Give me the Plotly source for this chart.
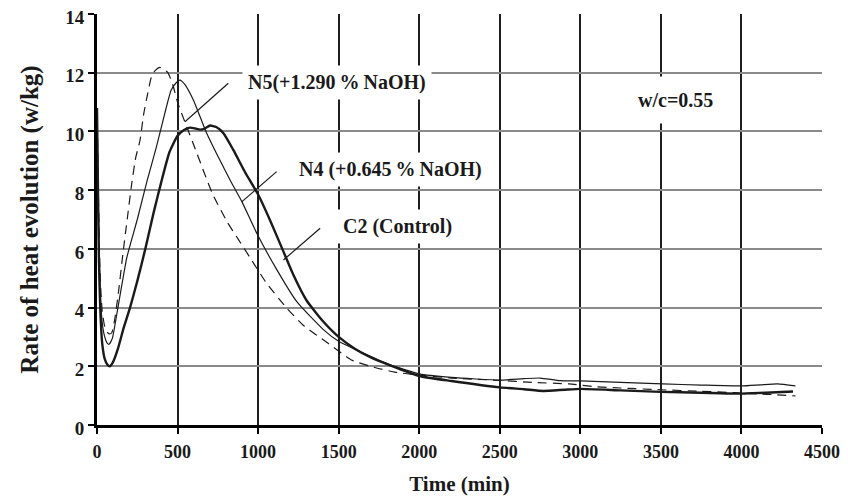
import plotly.graph_objects as go

# ---- data ----
t_c2 = [0, 6, 12, 20, 32, 48, 65, 80, 100, 130, 165, 205, 250, 300, 350, 400, 450, 500, 540, 578, 610,
        640, 670, 702, 740, 785, 846, 920, 1000, 1080, 1150, 1220, 1300, 1400, 1500, 1600, 1700, 1820,
        2000, 2200, 2500, 2650, 2770, 2900, 3000, 3250, 3500, 3750, 3870, 4000, 4150, 4320]
y_c2 = [10.8, 8.0, 5.6, 4.0, 2.8, 2.25, 2.05, 2.0, 2.15, 2.6, 3.3, 4.0, 4.9, 6.0, 7.2, 8.3, 9.3, 9.85, 10.05,
        10.13, 10.1, 10.06, 10.1, 10.2, 10.15, 9.94, 9.37, 8.6, 7.85, 6.9, 6.0, 5.1, 4.25, 3.55, 3.0, 2.6, 2.3,
        2.03, 1.67, 1.5, 1.28, 1.22, 1.16, 1.2, 1.23, 1.18, 1.13, 1.1, 1.08, 1.07, 1.1, 1.14]

t_n4 = [0, 6, 12, 20, 32, 48, 62, 75, 95, 130, 185, 250, 310, 370, 420, 460, 490, 515, 545, 598, 640, 681,
        760, 830, 900, 990, 1115, 1240, 1405, 1500, 1613, 1820, 2000, 2200, 2500, 2650, 2750, 2875, 3000,
        3250, 3510, 3750, 4000, 4120, 4225, 4335]
y_n4 = [10.8, 8.5, 6.3, 4.6, 3.5, 3.0, 2.8, 2.75, 2.95, 4.0, 5.7, 7.0, 8.3, 9.5, 10.6, 11.4, 11.65, 11.75,
        11.6, 11.07, 10.5, 9.94, 9.05, 8.3, 7.6, 6.55, 5.3, 4.2, 3.25, 2.85, 2.55, 2.05, 1.74, 1.62, 1.53, 1.58,
        1.6, 1.51, 1.5, 1.45, 1.4, 1.36, 1.33, 1.37, 1.4, 1.33]

t_n5 = [0, 6, 12, 20, 32, 48, 65, 80, 92, 110, 135, 160, 185, 215, 240, 267, 290, 315, 340, 362, 390, 415,
        440, 470, 500, 547, 610, 715, 810, 880, 950, 1050, 1175, 1280, 1430, 1585, 1730, 1850, 2000, 2200,
        2500, 2700, 2930, 3100, 3250, 3500, 3750, 3960, 4100, 4220, 4335]
y_n5 = [10.8, 8.8, 6.8, 5.0, 3.9, 3.35, 3.15, 3.1, 3.15, 3.6, 4.6, 5.8, 6.9, 8.2, 9.1, 9.7, 10.6, 11.3,
        11.9, 12.08, 12.18, 12.12, 12.0, 11.6, 11.0, 10.3, 9.4, 7.9, 6.9, 6.3, 5.7, 4.85, 4.0, 3.4, 2.8,
        2.2, 1.95, 1.8, 1.7, 1.6, 1.52, 1.45, 1.4, 1.3, 1.26, 1.2, 1.15, 1.1, 1.06, 1.03, 0.99]

x_ticks = [0, 500, 1000, 1500, 2000, 2500, 3000, 3500, 4000, 4500]
y_ticks = [0, 2, 4, 6, 8, 10, 12, 14]

# labels: text, label centre (x, y), pointer start (x, y), pointer end (x, y)
labels = [
    ("N5(+1.290\u2009%\u2009NaOH)", 1490, 11.65, 815, 11.64, 546, 10.33),
    ("N4 (+0.645\u2009%\u2009NaOH)", 1820, 8.69, 1115, 8.63, 898, 7.6),
    ("C2 (Control)", 1865, 6.75, 1385, 6.7, 1157, 5.62),
]
note_text, note_x, note_y = "w/c=0.55", 3590, 11.07

FONT = "Liberation Serif"
INK = "#1a1a1a"

fig = go.Figure()
fig.add_trace(go.Scatter(x=t_n5, y=y_n5, mode="lines", name="N5",
                         line=dict(color=INK, width=1.2, dash="9px,6px", shape="spline", smoothing=0.5)))
fig.add_trace(go.Scatter(x=t_n4, y=y_n4, mode="lines", name="N4",
                         line=dict(color=INK, width=1.2, shape="spline", smoothing=0.5)))
fig.add_trace(go.Scatter(x=t_c2, y=y_c2, mode="lines", name="C2",
                         line=dict(color=INK, width=2.4, shape="spline", smoothing=0.5)))

for text, lx, ly, px0, py0, px1, py1 in labels:
    fig.add_annotation(x=lx, y=ly, text=text, showarrow=False,
                       font=dict(family=FONT, size=20, color=INK, weight="bold"),
                       bgcolor="white", borderpad=5)
    fig.add_shape(type="line", x0=px0, y0=py0, x1=px1, y1=py1, xref="x", yref="y",
                  line=dict(color=INK, width=1.2), layer="above")

fig.add_annotation(x=note_x, y=note_y, text=note_text, showarrow=False,
                   font=dict(family=FONT, size=20, color=INK, weight="bold"),
                   bgcolor="white", borderpad=12)

# the page body keeps its default 8px margin, so the figure is sized to fit the
# 848x504 window without scrollbars and the margins are shifted accordingly
fig.update_layout(
    width=832, height=488,
    margin=dict(l=89, r=18, t=6, b=71, autoexpand=False),
    paper_bgcolor="white", plot_bgcolor="white",
    showlegend=False,
    font=dict(family=FONT, color=INK),
)
fig.update_xaxes(
    range=[0, 4500], tickvals=x_ticks, ticktext=[str(v) for v in x_ticks],
    automargin=False, ticklabeloverflow="allow",
    showgrid=True, gridcolor="#1e1e1e", gridwidth=1.6, zeroline=False,
    showline=True, linecolor="black", linewidth=3,
    ticks="outside", ticklen=6, tickwidth=2, tickcolor="black",
    ticklabelstandoff=2,
    tickfont=dict(family=FONT, size=18, color=INK, weight="bold"),
    title=dict(text="Time (min)", font=dict(family=FONT, size=21, color=INK, weight="bold"), standoff=16),
)
fig.update_yaxes(
    range=[0, 14], tickvals=y_ticks, ticktext=[str(v) for v in y_ticks],
    automargin=False, ticklabeloverflow="allow",
    showgrid=True, gridcolor="#8a8a8a", gridwidth=1.6, zeroline=False,
    showline=True, linecolor="black", linewidth=3,
    ticks="outside", ticklen=6, tickwidth=2, tickcolor="black",
    ticklabelshift=3,
    tickfont=dict(family=FONT, size=19, color=INK, weight="bold"),
    title=dict(text="Rate of heat evolution (w/kg)", font=dict(family=FONT, size=25, color=INK, weight="bold"),
               standoff=20),
)

fig.write_html("out.html")
